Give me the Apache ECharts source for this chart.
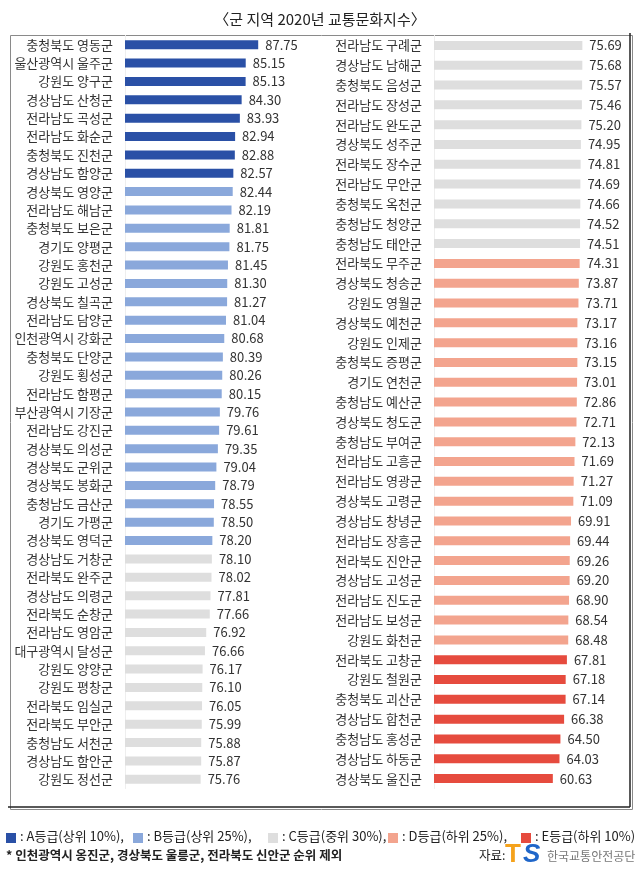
<!DOCTYPE html>
<html>
<head>
<meta charset="utf-8">
<script src="https://cdn.jsdelivr.net/npm/echarts@6/dist/echarts.min.js"></script>
<style>
html,body{margin:0;padding:0;background:#fff;}
#chart{width:640px;height:871px;}
</style>
</head>
<body>
<div id="chart"></div>
<script>
const titleText = '〈군 지역 2020년 교통문화지수〉';

const leftNames = ['충청북도 영동군','울산광역시 울주군','강원도 양구군','경상남도 산청군','전라남도 곡성군','전라남도 화순군','충청북도 진천군','경상남도 함양군','경상북도 영양군','전라남도 해남군','충청북도 보은군','경기도 양평군','강원도 홍천군','강원도 고성군','경상북도 칠곡군','전라남도 담양군','인천광역시 강화군','충청북도 단양군','강원도 횡성군','전라남도 함평군','부산광역시 기장군','전라남도 강진군','경상북도 의성군','경상북도 군위군','경상북도 봉화군','충청남도 금산군','경기도 가평군','경상북도 영덕군','경상남도 거창군','전라북도 완주군','경상남도 의령군','전라북도 순창군','전라남도 영암군','대구광역시 달성군','강원도 양양군','강원도 평창군','전라북도 임실군','전라북도 부안군','충청남도 서천군','경상남도 함안군','강원도 정선군'];
const leftValues = [87.75,85.15,85.13,84.30,83.93,82.94,82.88,82.57,82.44,82.19,81.81,81.75,81.45,81.30,81.27,81.04,80.68,80.39,80.26,80.15,79.76,79.61,79.35,79.04,78.79,78.55,78.50,78.20,78.10,78.02,77.81,77.66,76.92,76.66,76.17,76.10,76.05,75.99,75.88,75.87,75.76];
const leftGrades = ['A','A','A','A','A','A','A','A','B','B','B','B','B','B','B','B','B','B','B','B','B','B','B','B','B','B','B','B','C','C','C','C','C','C','C','C','C','C','C','C','C'];

const rightNames = ['전라남도 구례군','경상남도 남해군','충청북도 음성군','전라남도 장성군','전라남도 완도군','경상북도 성주군','전라북도 장수군','전라남도 무안군','충청북도 옥천군','충청남도 청양군','충청남도 태안군','전라북도 무주군','경상북도 청송군','강원도 영월군','경상북도 예천군','강원도 인제군','충청북도 증평군','경기도 연천군','충청남도 예산군','경상북도 청도군','충청남도 부여군','전라남도 고흥군','전라남도 영광군','경상북도 고령군','경상남도 창녕군','전라남도 장흥군','전라북도 진안군','경상남도 고성군','전라남도 진도군','전라남도 보성군','강원도 화천군','전라북도 고창군','강원도 철원군','충청북도 괴산군','경상남도 합천군','충청남도 홍성군','경상남도 하동군','경상북도 울진군'];
const rightValues = [75.69,75.68,75.57,75.46,75.20,74.95,74.81,74.69,74.66,74.52,74.51,74.31,73.87,73.71,73.17,73.16,73.15,73.01,72.86,72.71,72.13,71.69,71.27,71.09,69.91,69.44,69.26,69.20,68.90,68.54,68.48,67.81,67.18,67.14,66.38,64.50,64.03,60.63];
const rightGrades = ['C','C','C','C','C','C','C','C','C','C','C','D','D','D','D','D','D','D','D','D','D','D','D','D','D','D','D','D','D','D','D','E','E','E','E','E','E','E'];

const gradeKeys = ['A','B','C','D','E'];
const gradeLabels = [': A등급(상위 10%),', ': B등급(상위 25%),', ': C등급(중위 30%),', ': D등급(하위 25%),', ': E등급(하위 10%)'];
const noteText = '* 인천광역시 옹진군, 경상북도 울릉군, 전라북도 신안군 순위 제외';
const sourceLabel = '자료:';
const sourceOrg = '한국교통안전공단';

const gradeColors = {A:'#2a50a6', B:'#8aa8db', C:'#dedede', D:'#f3a48e', E:'#e64b3e'};
const FONT = "'Noto Sans CJK KR', 'Noto Sans', sans-serif";

const chart = echarts.init(document.getElementById('chart'));

function barData(vals, grades){
  return vals.map((v,i)=>({value:v, itemStyle:{color:gradeColors[grades[i]]}}));
}

const legendX = [6, 133, 268, 388, 521];
const legendGraphics = [];
gradeKeys.forEach((k,i)=>{
  legendGraphics.push({type:'rect', left:legendX[i], top:833, shape:{width:10, height:10}, style:{fill:gradeColors[k]}});
  legendGraphics.push({type:'text', left:legendX[i]+14, top:830, style:{text:gradeLabels[i], font:'13px '+FONT, fill:'#222'}});
});

const option = {
  animation:false,
  backgroundColor:'#fff',
  title:{text:titleText, left:'center', top:7, textStyle:{fontFamily:FONT, fontSize:15, fontWeight:'normal', color:'#222'}},
  grid:[
    {left:125, top:35.5, width:144, height:753},
    {left:434, top:35.5, width:156.8, height:753}
  ],
  xAxis:[
    {gridIndex:0, type:'value', min:60, max:90, show:false},
    {gridIndex:1, type:'value', min:0, max:80, show:false}
  ],
  yAxis:[
    {gridIndex:0, type:'category', inverse:true, data:leftNames,
     axisTick:{show:false}, axisLine:{show:true, lineStyle:{color:'#eeeeee'}},
     axisLabel:{margin:12, fontFamily:FONT, fontSize:13, color:'#333'}},
    {gridIndex:1, type:'category', inverse:true, data:rightNames,
     axisTick:{show:false}, axisLine:{show:true, lineStyle:{color:'#eeeeee'}},
     axisLabel:{margin:12, fontFamily:FONT, fontSize:13, color:'#333'}}
  ],
  series:[
    {type:'bar', xAxisIndex:0, yAxisIndex:0, data:barData(leftValues,leftGrades), barWidth:9,
     label:{show:true, position:'right', distance:7, fontFamily:FONT, fontSize:13, color:'#333', formatter:p=>p.value.toFixed(2)}},
    {type:'bar', xAxisIndex:1, yAxisIndex:1, data:barData(rightValues,rightGrades), barWidth:9,
     label:{show:true, position:'right', distance:7, fontFamily:FONT, fontSize:13, color:'#333', formatter:p=>p.value.toFixed(2)}}
  ],
  graphic:[
    {type:'rect', left:8, top:33, shape:{width:622, height:774}, style:{fill:'none', stroke:'#8a8a8a', lineWidth:1}},
    {type:'line', shape:{x1:630, y1:33, x2:630, y2:807}, style:{stroke:'#222', lineWidth:1.5}},
    {type:'line', shape:{x1:8, y1:807, x2:630, y2:807}, style:{stroke:'#222', lineWidth:1.5}},
    ...legendGraphics,
    {type:'text', left:6, top:849, style:{text:noteText, font:'bold 12.5px '+FONT, fill:'#222'}},
    {type:'text', left:479, top:849, style:{text:sourceLabel, font:'12.5px '+FONT, fill:'#222'}},
    {type:'text', left:505, top:842, style:{text:'T', font:'bold 26px Arial, '+FONT, fill:'#f5a21b'}},
    {type:'text', left:523, top:842, style:{text:'S', font:'bold italic 26px Arial, '+FONT, fill:'#1f66c9'}},
    {type:'text', left:547, top:850, style:{text:sourceOrg, font:'12px '+FONT, fill:'#777'}}
  ]
};
chart.setOption(option);
</script>
</body>
</html>
